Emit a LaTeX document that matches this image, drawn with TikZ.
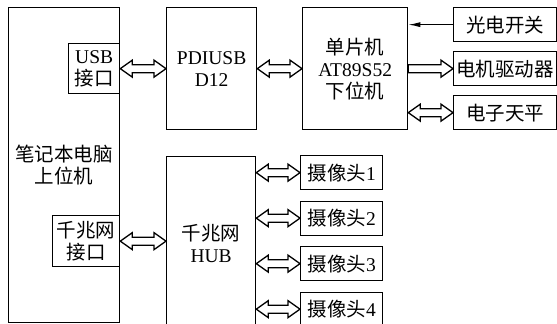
\documentclass[tikz,border=0pt]{standalone}
\usepackage{fontspec}
\setmainfont{Liberation Serif}
\newfontfamily\cjk{Noto Sans CJK SC}
\usetikzlibrary{calc,arrows.meta}
\begin{document}
\begin{tikzpicture}[x=1pt,y=-1pt,
  box/.style={draw, line width=1.3pt, anchor=north west, inner sep=0pt, align=center,
    font=\fontsize{19.5}{22}\selectfont},
  dbl/.style={draw, line width=1.3pt, fill=white, to path={
    let \p1=(\tikztostart), \p2=(\tikztotarget) in
    (\x1,\y1) -- (\x1+12pt,\y1+8.5pt) -- (\x1+12pt,\y1+4pt) -- (\x2-12pt,\y1+4pt)
    -- (\x2-12pt,\y1+8.5pt) -- (\x2,\y1) -- (\x2-12pt,\y1-8.5pt) -- (\x2-12pt,\y1-4pt)
    -- (\x1+12pt,\y1-4pt) -- (\x1+12pt,\y1-8.5pt) -- cycle}},
  sgl/.style={draw, line width=1.3pt, fill=white, to path={
    let \p1=(\tikztostart), \p2=(\tikztotarget) in
    (\x1,\y1+4pt) -- (\x2-12pt,\y1+4pt)
    -- (\x2-12pt,\y1+8.5pt) -- (\x2,\y1) -- (\x2-12pt,\y1-8.5pt) -- (\x2-12pt,\y1-4pt)
    -- (\x1,\y1-4pt) -- cycle}},
  thin/.style={line width=1pt, -{Latex[length=12pt,width=5pt]}}
]
\useasboundingbox (0,0) rectangle (557,324);
\clip (0,0) rectangle (557,324);

\node[box, minimum width=111pt, minimum height=315pt] (pc) at (8,7) {{\cjk 笔记本电脑}\\{\cjk 上位机}};
\node[box, minimum width=51pt, minimum height=50pt] (usb) at (68,43) {USB\\{\cjk 接口}};
\node[box, minimum width=67pt, minimum height=51pt] (gig) at (52,215) {{\cjk 千兆网}\\{\cjk 接口}};
\node[box, minimum width=90pt, minimum height=122pt] (pdi) at (166,7) {PDIUSB\\D12};
\node[box, minimum width=89pt, minimum height=174pt] (hub) at (166,156) {{\cjk 千兆网}\\HUB};
\node[box, minimum width=105pt, minimum height=122pt] (mcu) at (302,7) {{\cjk 单片机}\\AT89S52\\{\cjk 下位机}};
\node[box, minimum width=103pt, minimum height=34pt] (sw) at (453,7) {\cjk 光电开关};
\node[box, minimum width=103pt, minimum height=34pt] (mot) at (453,51) {\cjk 电机驱动器};
\node[box, minimum width=103pt, minimum height=34pt] (bal) at (453,95) {\cjk 电子天平};
\node[box, minimum width=82pt, minimum height=34pt] (cam1) at (300,155) {{\cjk 摄像头}1};
\node[box, minimum width=82pt, minimum height=34pt] (cam2) at (300,200.5) {{\cjk 摄像头}2};
\node[box, minimum width=82pt, minimum height=34pt] (cam3) at (300,246) {{\cjk 摄像头}3};
\node[box, minimum width=82pt, minimum height=34pt] (cam4) at (300,291.5) {{\cjk 摄像头}4};

\draw[dbl] (usb.east) to (pdi.west |- usb.east);
\draw[dbl] (pdi.east) to (mcu.west);
\draw[thin] (sw.west) -- (mcu.east |- sw.west);
\draw[sgl] (mcu.east |- mot.west) to (mot.west);
\draw[dbl] (mcu.east |- bal.west) to (bal.west);
\draw[dbl] (gig.east) to (hub.west |- gig.east);
\draw[dbl] (hub.east |- cam1.west) to (cam1.west);
\draw[dbl] (hub.east |- cam2.west) to (cam2.west);
\draw[dbl] (hub.east |- cam3.west) to (cam3.west);
\draw[dbl] (hub.east |- cam4.west) to (cam4.west);
\end{tikzpicture}
\end{document}
